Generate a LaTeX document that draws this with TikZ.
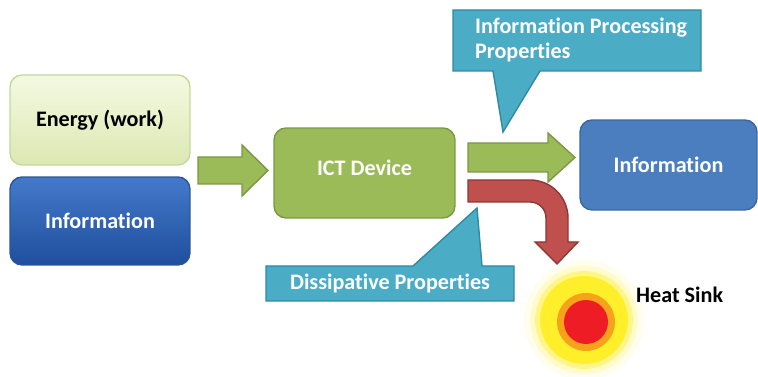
\documentclass[tikz,border=0pt]{standalone}
\usepackage{fontspec}
\setmainfont[Ligatures=NoCommon]{Carlito}
\usetikzlibrary{positioning}

\definecolor{energyTop}{HTML}{F4F9E2}
\definecolor{energyBot}{HTML}{DCE8B2}
\definecolor{energyLine}{HTML}{C6D79C}
\definecolor{infoTop}{HTML}{4479C9}
\definecolor{infoBot}{HTML}{1F4F9E}
\definecolor{infoLine}{HTML}{2A5596}
\definecolor{infoFlat}{HTML}{4A7EBF}
\definecolor{infoFlatLine}{HTML}{3B679E}
\definecolor{ictGreen}{HTML}{9BBB59}
\definecolor{ictLine}{HTML}{7A9842}
\definecolor{heatRed}{HTML}{C0504D}
\definecolor{heatLine}{HTML}{8C3836}
\definecolor{calloutTeal}{HTML}{4BACC6}
\definecolor{calloutLine}{HTML}{2F8AA3}
\definecolor{glowYellow}{HTML}{FFEF2A}
\definecolor{glowOrange}{HTML}{F7A21B}
\definecolor{glowRed}{HTML}{EE1C25}

\tikzset{
    box/.style={rounded corners=0.24cm, minimum width=3.6cm, minimum height=1.8cm,
        line width=0.8pt, font=\fontsize{12.6}{15}\selectfont\bfseries, text=white},
    greenarrow/.style={fill=ictGreen, draw=ictLine, line width=0.8pt},
    redarrow/.style={fill=heatRed, draw=heatLine, line width=0.8pt},
    callout/.style={fill=calloutTeal, draw=calloutLine, line width=0.8pt},
    callouttext/.style={font=\fontsize{12.6}{14.7}\selectfont\bfseries, text=white, align=left},
}

\begin{document}
\begin{tikzpicture}[x=0.02cm, y=-0.02cm]
    \useasboundingbox (0,0) rectangle (758,377);

    % input boxes
    \node[box, top color=energyTop, bottom color=energyBot, draw=energyLine, text=black]
        (energy) at (100,120) {Energy (work)};
    \node[box, top color=infoTop, bottom color=infoBot, draw=infoLine,
        minimum height=1.76cm] (infoIn) at (100,221) {Information};

    \node[box, fill=ictGreen, draw=ictLine, minimum width=3.62cm] (ict) at (364.5,173) {};
    \node[font=\fontsize{12.6}{15}\selectfont\bfseries, text=white] (ictText) at (364.5,168) {ICT Device};
    \node[box, fill=infoFlat, draw=infoFlatLine, minimum width=3.54cm] (infoOut) at (668.5,165) {Information};

    % block arrows
    \draw[greenarrow] (198,157) -- (242,157) -- (242,145) -- (268,170.5)
        -- (242,196) -- (242,184) -- (198,184) -- cycle;
    \draw[greenarrow] (468,143) -- (548,143) -- (548,133) -- (575,157.5)
        -- (548,182) -- (548,172) -- (468,172) -- cycle;
    \draw[redarrow] (468,180) -- (530,180)
        .. controls (551,180) and (568,197) .. (568,218)
        -- (568,242) -- (578,242) -- (557,264) -- (535,242) -- (546,242) -- (546,218)
        .. controls (546,209) and (539,202) .. (530,202)
        -- (468,202) -- cycle;

    % callouts
    \draw[callout] (453,10) -- (701,10) -- (701,71) -- (540,71) -- (503,132)
        -- (493,71) -- (453,71) -- cycle;
    \node[callouttext, anchor=west] (procProps) at (469,40)
        {Information Processing\\Properties};

    \draw[callout] (266,266) -- (413,266) -- (477,208) -- (482,266) -- (514,266)
        -- (514,301) -- (266,301) -- cycle;
    \node[callouttext] (dissProps) at (390,283) {Dissipative Properties};

    % heat sink
    \fill[glowYellow!8] (584,320) circle (60);
    \fill[glowYellow!25] (584,320) circle (54);
    \fill[glowYellow!55] (584,320) circle (49);
    \fill[glowYellow] (584,320) circle (44);
    \fill[glowOrange] (586,322) circle (29);
    \fill[glowRed] (586,322) circle (22);
    \node[anchor=west, font=\fontsize{12.6}{15}\selectfont\bfseries] (sink) at (630,295) {Heat Sink};
\end{tikzpicture}
\end{document}
